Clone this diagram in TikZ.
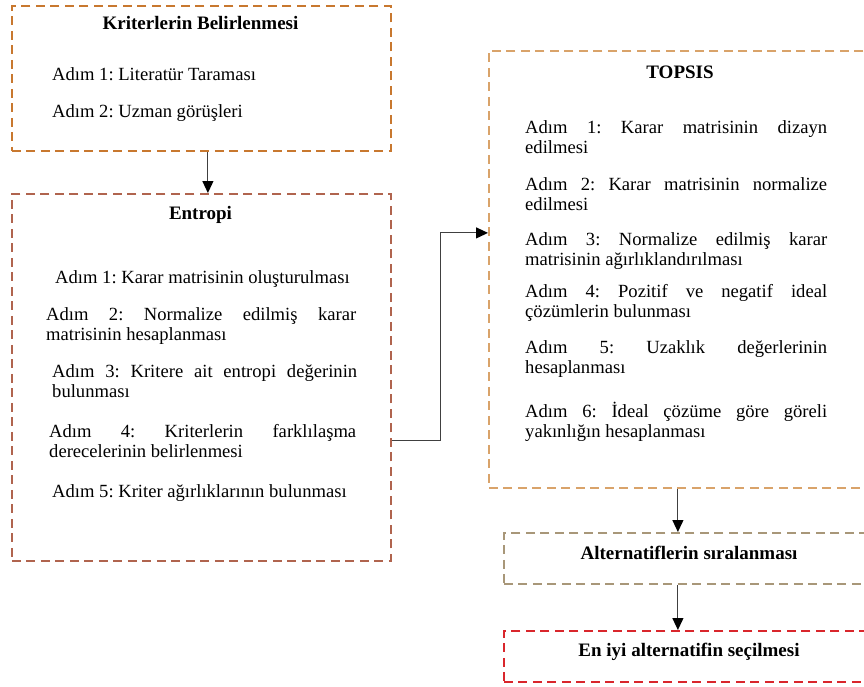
\documentclass[tikz,border=0pt]{standalone}
\usepackage{fontspec}
\setmainfont{Liberation Serif}
\usetikzlibrary{arrows.meta}
\definecolor{kriterrenk}{HTML}{C8782F}
\definecolor{entropirenk}{HTML}{B0644E}
\definecolor{topsisrenk}{HTML}{D9A36A}
\definecolor{siralarenk}{HTML}{A89779}
\definecolor{secimrenk}{HTML}{D9262C}
\frenchspacing
\tikzset{
	kutu/.style={line width=1.8pt, dash pattern=on 9pt off 5.5pt, anchor=north west, inner sep=0pt},
	baslik/.style={font=\fontsize{19}{21}\selectfont\bfseries, anchor=base, inner sep=0pt},
	adim/.style={font=\fontsize{18.6}{20.5}\selectfont, align=justify, anchor=base west, inner sep=0pt, text width=#1},
	adim/.default=320pt,
	ok/.style={line width=1.1pt, color=black!75, -{Triangle[length=12pt,width=11pt,color=black]}}
}

\begin{document}
\begin{tikzpicture}[x=1pt, y=-1pt]
		%%%%% START %%%%%
		\path[use as bounding box, clip] (0, 0) rectangle (864, 686);
		
		\node[kutu, draw=kriterrenk, minimum width=379pt, minimum height=145pt] (kriter) at (11, 5) {};
		\node[baslik] (kriterbaslik) at (200.5, 29) {Kriterlerin\ Belirlenmesi};
		\node[adim] (kriter1) at (52, 80) {Adım 1: Literatür Taraması};
		\node[adim] (kriter2) at (52, 117) {Adım 2: Uzman görüşleri};
		
		\node[kutu, draw=entropirenk, minimum width=379pt, minimum height=367pt] (entropi) at (11, 193) {};
		\node[baslik] (entropibaslik) at (200.5, 219) {Entropi};
		\node[adim] (entropi1) at (55, 283) {Adım 1: Karar matrisinin oluşturulması};
		\node[adim=310pt] (entropi2) at (46, 320) {Adım 2: Normalize edilmiş karar\linebreak matrisinin hesaplanması};
		\node[adim=305pt] (entropi3) at (52, 377) {Adım 3: Kritere ait entropi değerinin\linebreak bulunması};
		\node[adim=307pt] (entropi4) at (49, 437) {Adım 4: Kriterlerin farklılaşma\linebreak derecelerinin belirlenmesi};
		\node[adim] (entropi5) at (52, 497) {Adım 5: Kriter ağırlıklarının bulunması};
		
		\node[kutu, draw=topsisrenk, minimum width=382pt, minimum height=437pt] (topsis) at (488, 50) {};
		\node[baslik] (topsisbaslik) at (680, 78) {TOPSIS};
		\node[adim=302pt] (topsis1) at (525, 133) {Adım 1: Karar matrisinin dizayn\linebreak edilmesi};
		\node[adim=302pt] (topsis2) at (525, 190) {Adım 2: Karar matrisinin normalize\linebreak edilmesi};
		\node[adim=302pt] (topsis3) at (525, 245) {Adım 3: Normalize edilmiş karar\linebreak matrisinin ağırlıklandırılması};
		\node[adim=302pt] (topsis4) at (525, 297) {Adım 4: Pozitif ve negatif ideal\linebreak çözümlerin bulunması};
		\node[adim=302pt] (topsis5) at (525, 353) {Adım 5: Uzaklık değerlerinin\linebreak hesaplanması};
		\node[adim=302pt] (topsis6) at (525, 417) {Adım 6: İdeal çözüme göre göreli\linebreak yakınlığın hesaplanması};
		
		\node[kutu, draw=siralarenk, minimum width=367pt, minimum height=51pt] (sirala) at (503, 532) {};
		\node[baslik] (siralabaslik) at (689, 559) {Alternatiflerin sıralanması};
		
		\node[kutu, draw=secimrenk, minimum width=367pt, minimum height=51pt] (secim) at (503, 630) {};
		\node[baslik] (secimbaslik) at (689, 656) {En iyi alternatifin seçilmesi};
		
		\draw[ok] ([xshift=6.5pt]kriter.south) -- ([xshift=6.5pt]kriter.south |- entropi.north);
		\draw[ok] ([yshift=-63.5pt]entropi.east) -- ++(49, 0) |- ([yshift=36.5pt]topsis.west);
		\draw[ok] ([xshift=-2pt]topsis.south) -- ([xshift=-2pt]topsis.south |- sirala.north);
		\draw[ok] ([xshift=-9.5pt]sirala.south) -- ([xshift=-9.5pt]sirala.south |- secim.north);
		%%%%% END %%%%%
\end{tikzpicture}
\end{document}
